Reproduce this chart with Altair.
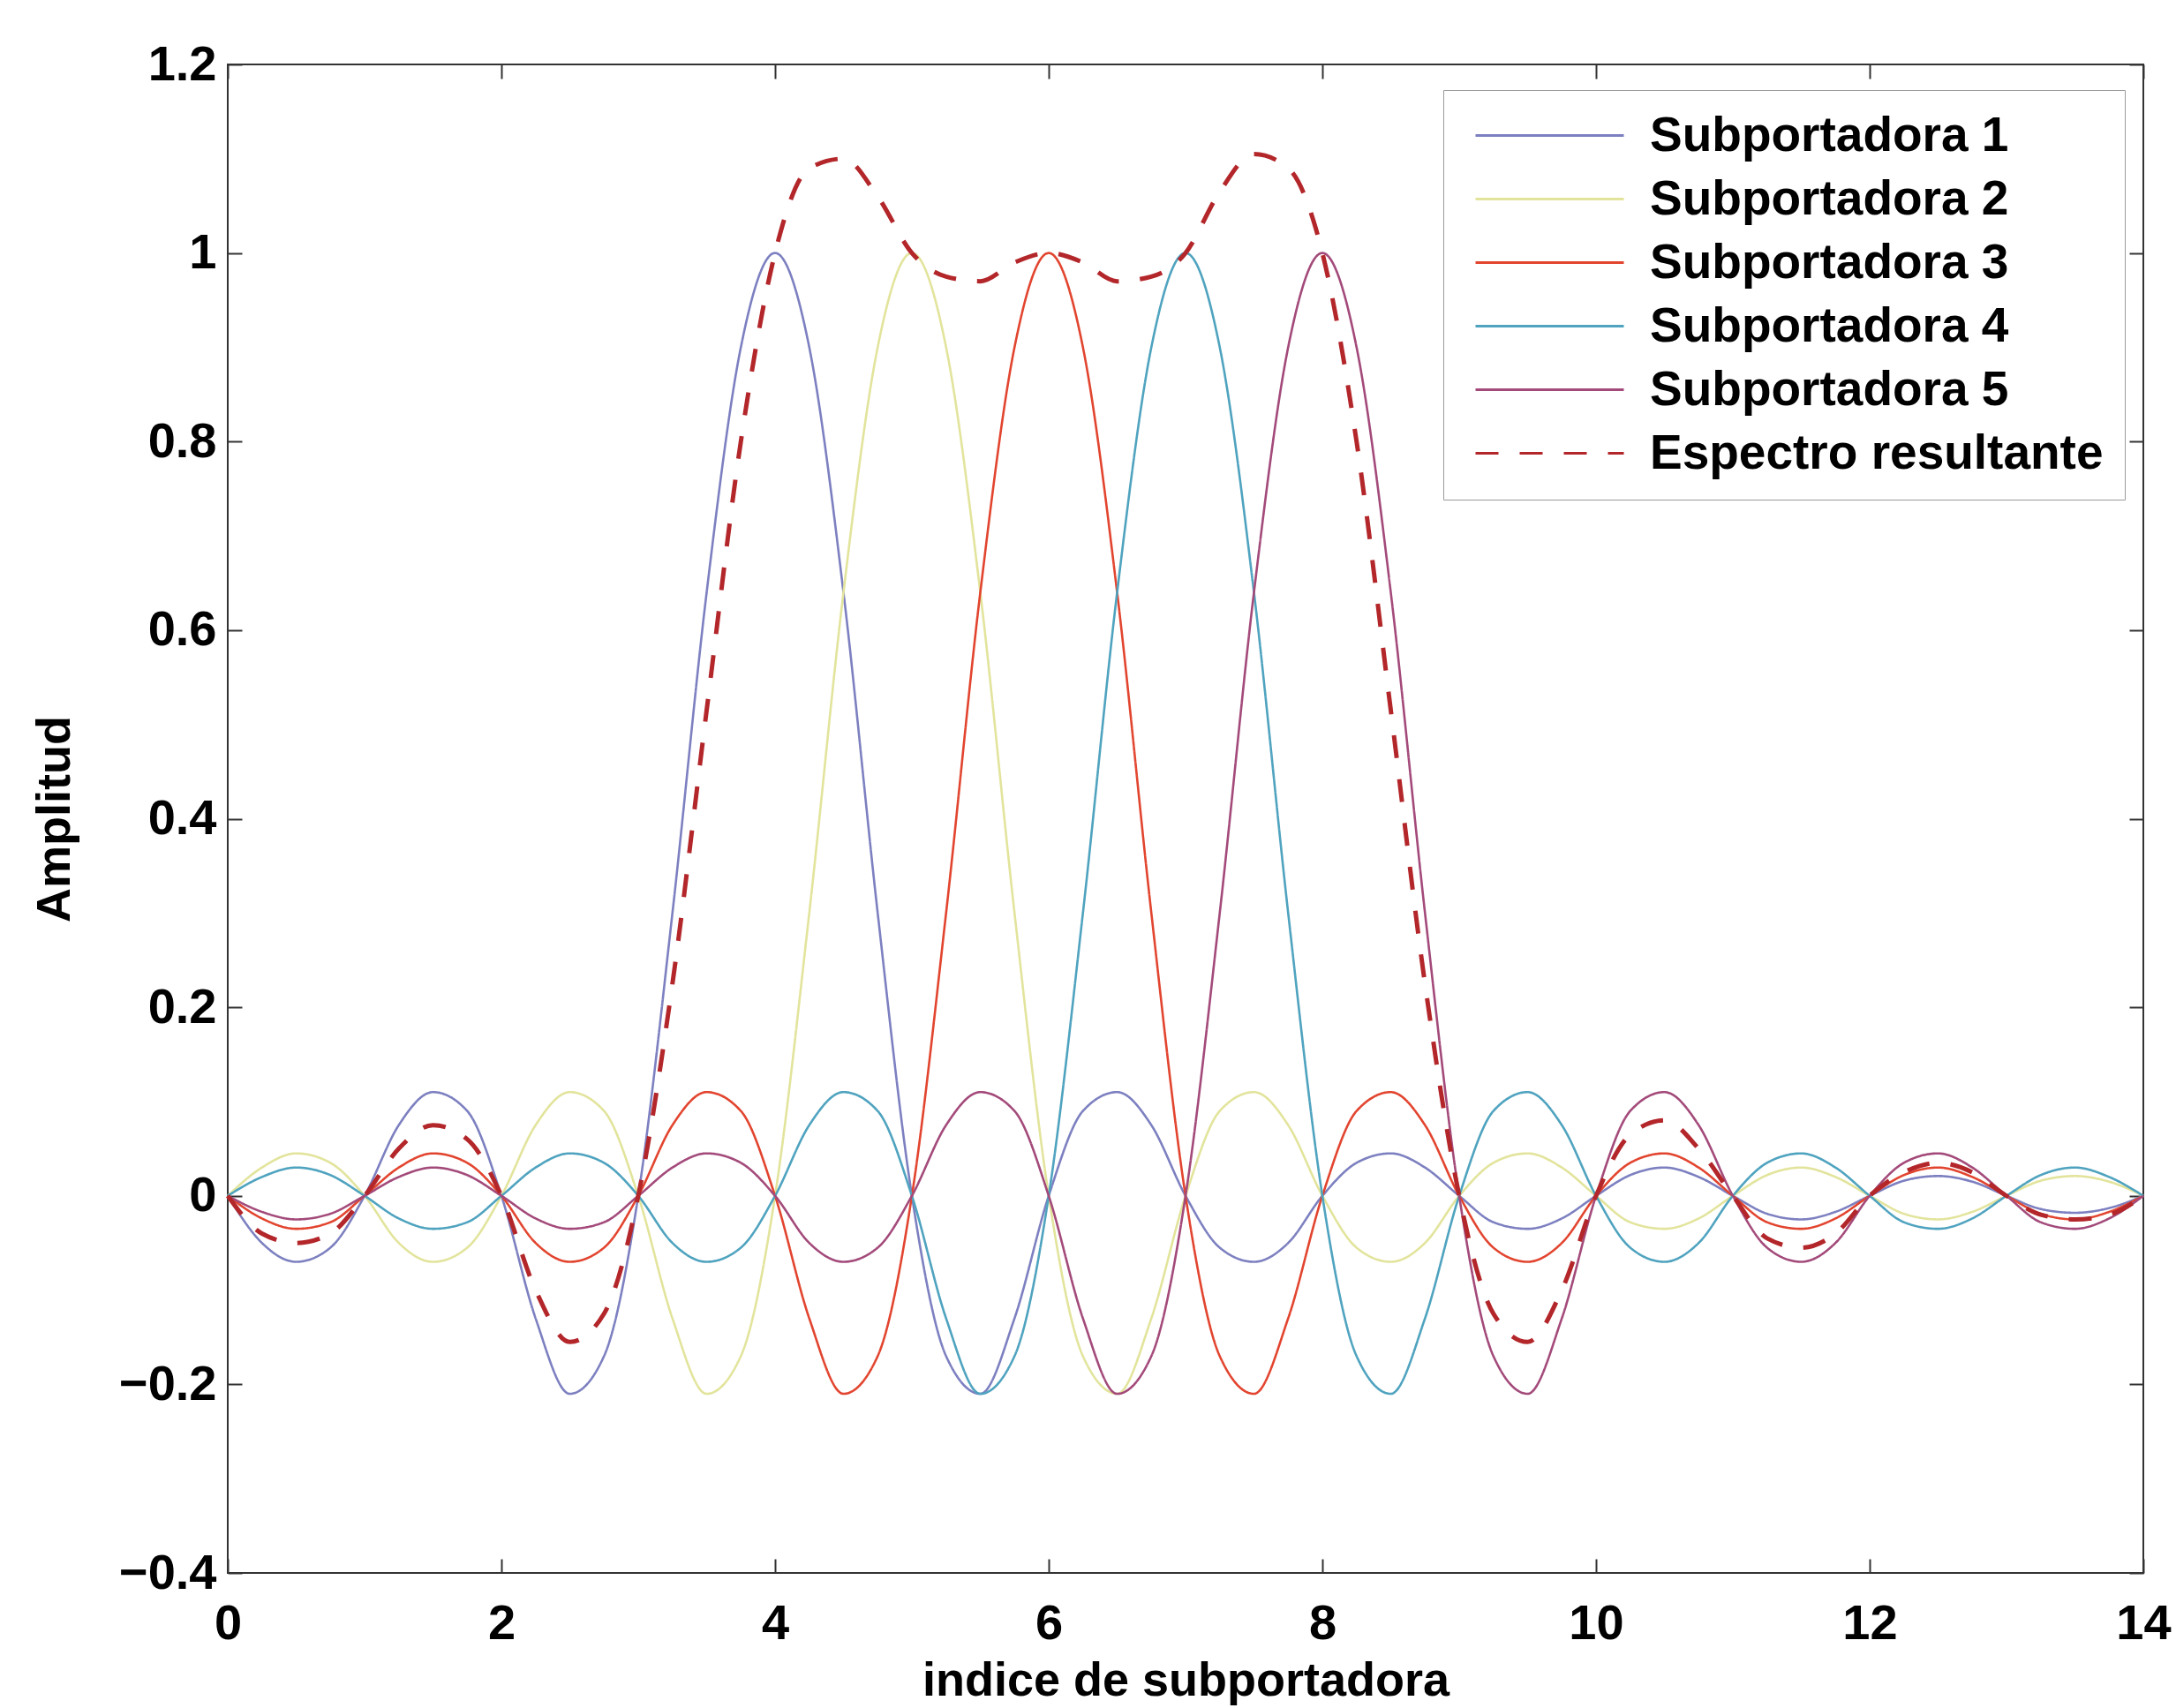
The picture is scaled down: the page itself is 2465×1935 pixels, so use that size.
import altair as alt
import pandas as pd

x_vals = [0, 0.25, 0.5, 0.75, 1, 1.25, 1.5, 1.75, 2, 2.25, 2.5, 2.75, 3, 3.25, 3.5, 3.75,
          4, 4.25, 4.5, 4.75, 5, 5.25, 5.5, 5.75, 6, 6.25, 6.5, 6.75, 7, 7.25, 7.5, 7.75,
          8, 8.25, 8.5, 8.75, 9, 9.25, 9.5, 9.75, 10, 10.25, 10.5, 10.75, 11, 11.25, 11.5, 11.75,
          12, 12.25, 12.5, 12.75, 13, 13.25, 13.5, 13.75, 14]

sub1 = [0, -0.05, -0.07, -0.055, 0, 0.075, 0.11, 0.09, 0, -0.13, -0.21, -0.17, 0, 0.30, 0.64, 0.90,
        1.00, 0.90, 0.64, 0.30, 0, -0.17, -0.21, -0.13, 0, 0.09, 0.11, 0.075, 0, -0.055, -0.07, -0.05,
        0, 0.035, 0.045, 0.03, 0, -0.028, -0.035, -0.024, 0, 0.022, 0.03, 0.02, 0, -0.019, -0.025, -0.017,
        0, 0.016, 0.021, 0.015, 0, -0.014, -0.018, -0.013, 0]
sub2 = [0, 0.03, 0.045, 0.035, 0, -0.05, -0.07, -0.055, 0, 0.075, 0.11, 0.09, 0, -0.13, -0.21, -0.17,
        0, 0.30, 0.64, 0.90, 1.00, 0.90, 0.64, 0.30, 0, -0.17, -0.21, -0.13, 0, 0.09, 0.11, 0.075,
        0, -0.055, -0.07, -0.05, 0, 0.035, 0.045, 0.03, 0, -0.028, -0.035, -0.024, 0, 0.022, 0.03, 0.02,
        0, -0.019, -0.025, -0.017, 0, 0.016, 0.021, 0.015, 0]
sub3 = [0, -0.024, -0.035, -0.028, 0, 0.03, 0.045, 0.035, 0, -0.05, -0.07, -0.055, 0, 0.075, 0.11, 0.09,
        0, -0.13, -0.21, -0.17, 0, 0.30, 0.64, 0.90, 1.00, 0.90, 0.64, 0.30, 0, -0.17, -0.21, -0.13,
        0, 0.09, 0.11, 0.075, 0, -0.055, -0.07, -0.05, 0, 0.035, 0.045, 0.03, 0, -0.028, -0.035, -0.024,
        0, 0.022, 0.03, 0.02, 0, -0.019, -0.025, -0.017, 0]
sub4 = [0, 0.02, 0.03, 0.022, 0, -0.024, -0.035, -0.028, 0, 0.03, 0.045, 0.035, 0, -0.05, -0.07, -0.055,
        0, 0.075, 0.11, 0.09, 0, -0.13, -0.21, -0.17, 0, 0.30, 0.64, 0.90, 1.00, 0.90, 0.64, 0.30,
        0, -0.17, -0.21, -0.13, 0, 0.09, 0.11, 0.075, 0, -0.055, -0.07, -0.05, 0, 0.035, 0.045, 0.03,
        0, -0.028, -0.035, -0.024, 0, 0.022, 0.03, 0.02, 0]
sub5 = [0, -0.017, -0.025, -0.019, 0, 0.02, 0.03, 0.022, 0, -0.024, -0.035, -0.028, 0, 0.03, 0.045, 0.035,
        0, -0.05, -0.07, -0.055, 0, 0.075, 0.11, 0.09, 0, -0.13, -0.21, -0.17, 0, 0.30, 0.64, 0.90,
        1.00, 0.90, 0.64, 0.30, 0, -0.17, -0.21, -0.13, 0, 0.09, 0.11, 0.075, 0, -0.055, -0.07, -0.05,
        0, 0.035, 0.045, 0.03, 0, -0.028, -0.035, -0.024, 0]
espectro = [0, -0.04, -0.05, -0.04, 0, 0.05, 0.075, 0.06, 0, -0.10, -0.155, -0.125, 0, 0.225, 0.515, 0.80,
            1.0, 1.09, 1.10, 1.06, 1.0, 0.975, 0.97, 0.99, 1.0, 0.99, 0.97, 0.975, 1.0, 1.065, 1.105, 1.09,
            1.0, 0.80, 0.515, 0.225, 0, -0.125, -0.155, -0.10, 0, 0.065, 0.08, 0.05, 0, -0.045, -0.055, -0.04,
            0, 0.025, 0.035, 0.025, 0, -0.02, -0.025, -0.02, 0]

names = ["Subportadora 1", "Subportadora 2", "Subportadora 3",
         "Subportadora 4", "Subportadora 5", "Espectro resultante"]
colors = ["#7d80c0", "#e2e49c", "#e2452f", "#4fa3bf", "#a34a7a", "#b3262a"]
dashes = [[1, 0], [1, 0], [1, 0], [1, 0], [1, 0], [26, 24]]

x_ticks = [0, 2, 4, 6, 8, 10, 12, 14]
y_ticks = [-0.4, -0.2, 0, 0.2, 0.4, 0.6, 0.8, 1, 1.2]

rows = []
for name, ys in zip(names[:5], [sub1, sub2, sub3, sub4, sub5]):
    for xv, yv in zip(x_vals, ys):
        rows.append({"serie": name, "x": xv, "y": yv})
df_sub = pd.DataFrame(rows)
df_sum = pd.DataFrame({"serie": names[5], "x": x_vals, "y": espectro})

W, H = 2170, 1709
FONT = "Liberation Sans"

xscale = alt.Scale(domain=[0, 14], nice=False, zero=False)
yscale = alt.Scale(domain=[-0.4, 1.2], nice=False, zero=False)

legend = alt.Legend(
    title=None, orient="none", legendX=1377, legendY=29,
    symbolType="M-5.6,0H5.6", symbolSize=900, symbolOffset=69, labelOffset=86,
    symbolStrokeWidth=3, rowPadding=16, padding=24,
    labelFont=FONT, labelFontSize=55, labelFontWeight="bold", labelColor="black",
    strokeColor="#9a9a9a", fillColor="white", labelLimit=1000,
)
color = alt.Color("serie:N", scale=alt.Scale(domain=names, range=colors), legend=legend)
dash = alt.StrokeDash("serie:N", scale=alt.Scale(domain=names, range=dashes), legend=legend)

tick_axis = dict(labels=False, title=None, domain=False, grid=False, ticks=True,
                 tickSize=16, tickWidth=2, tickColor="#333")

main = alt.Chart(df_sub).mark_line(strokeWidth=2.6, interpolate="monotone").encode(
    x=alt.X("x:Q", scale=xscale, axis=alt.Axis(
        values=x_ticks, format="~g", title="indice de subportadora", orient="bottom",
        ticks=False, tickSize=0, domain=False, grid=False, labelPadding=30,
        labelFlush=False, labelOverlap=False, titleX=W / 2, titleY=122,
        titleAlign="center", titleBaseline="middle")),
    y=alt.Y("y:Q", scale=yscale, axis=alt.Axis(
        values=y_ticks, format="~g", title="Amplitud", orient="left",
        ticks=False, tickSize=0, domain=False, grid=False, labelPadding=13,
        labelFlush=False, labelOverlap=False, titleX=-196, titleY=H / 2,
        titleAngle=270, titleAlign="center", titleBaseline="middle")),
    color=color, strokeDash=dash, detail="serie:N",
)

summ = alt.Chart(df_sum).mark_line(strokeWidth=5, interpolate="monotone").encode(
    x=alt.X("x:Q", scale=xscale, axis=alt.Axis(values=x_ticks, orient="top", offset=-H, **tick_axis)),
    y=alt.Y("y:Q", scale=yscale, axis=alt.Axis(values=y_ticks, orient="right", offset=-W, **tick_axis)),
    color=color, strokeDash=dash,
)

ghost = alt.Chart(df_sum).mark_point(opacity=0).encode(
    x=alt.X("x:Q", scale=xscale, axis=alt.Axis(values=x_ticks, orient="bottom", offset=-H, **tick_axis)),
    y=alt.Y("y:Q", scale=yscale, axis=alt.Axis(values=y_ticks, orient="left", offset=-W, **tick_axis)),
)

chart = alt.layer(main, summ, ghost).resolve_axis(
    x="independent", y="independent"
).properties(
    width=W, height=H,
    autosize=alt.AutoSizeParams(type="none"),
    padding={"left": 258, "top": 73, "right": 37, "bottom": 153},
    background="white",
).configure_view(
    stroke="#333", strokeWidth=2
).configure_axis(
    labelFont=FONT, labelFontSize=56, labelFontWeight="bold", labelColor="black",
    titleFont=FONT, titleFontSize=54, titleFontWeight="bold", titleColor="black",
)

chart.save("out.html", embed_options={"renderer": "svg", "actions": False})
